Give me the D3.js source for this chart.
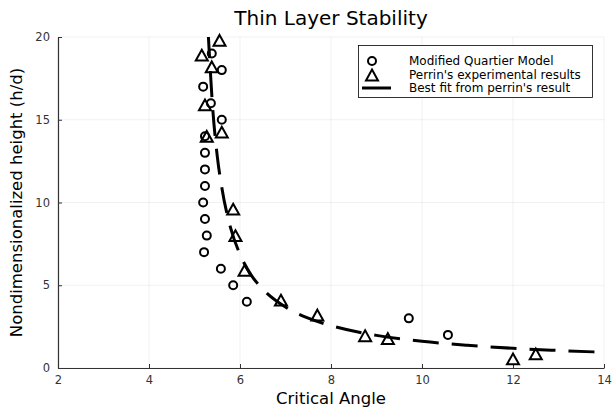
<!DOCTYPE html>
<html><head><meta charset="utf-8">
<script src="https://cdn.jsdelivr.net/npm/d3@7"></script>
<style>body{margin:0;background:#fff}svg{display:block}text{font-family:"DejaVu Sans",sans-serif}</style>
</head><body>
<script>
// Modified Quartier Model
const quartierX = [10.57, 9.71, 6.15, 5.85, 5.58, 5.21, 5.27, 5.23, 5.19, 5.23, 5.23, 5.23, 5.23, 5.6, 5.36, 5.19, 5.6, 5.38];
const quartierY = [2, 3, 4, 5, 6, 7, 8, 9, 10, 11, 12, 13, 14, 15, 16, 17, 18, 19];
// Perrin's experimental results
const perrinX = [5.55, 5.16, 5.38, 5.23, 5.27, 5.6, 5.85, 5.9, 6.1, 6.9, 7.7, 8.75, 9.25, 12.0, 12.5];
const perrinY = [19.8, 18.9, 18.2, 15.9, 14.0, 14.25, 9.6, 8.0, 5.9, 4.1, 3.2, 1.95, 1.78, 0.55, 0.85];
// Best fit from perrin's result
const fitX = [5.3, 5.4, 5.5, 5.6, 5.8, 6.0, 6.25, 6.5, 7.0, 7.5, 8.0, 9.0, 10.0, 11.0, 12.0, 13.0, 14.0];
const fitY = [20.3, 15.7, 12.8, 10.9, 8.4, 6.87, 5.6, 4.77, 3.68, 3.01, 2.56, 1.97, 1.61, 1.37, 1.19, 1.06, 0.95];
const xTicks = [2, 4, 6, 8, 10, 12, 14];
const yTicks = [0, 5, 10, 15, 20];
const legendLabels = ["Modified Quartier Model", "Perrin's experimental results", "Best fit from perrin's result"];

const W = 613, H = 407;
const L = 58, R = 604, T = 37, B = 368;
const svg = d3.select("body").append("svg").attr("width", W).attr("height", H);
const x = d3.scaleLinear().domain([2, 14]).range([L, R]);
const y = d3.scaleLinear().domain([0, 20]).range([B, T]);

// grid
const g = svg.append("g");
g.selectAll(".gx").data(xTicks).join("line")
  .attr("x1", d => x(d)).attr("x2", d => x(d)).attr("y1", T).attr("y2", B)
  .attr("stroke", "#000").attr("stroke-opacity", 0.1).attr("stroke-width", 0.6);
g.selectAll(".gy").data(yTicks).join("line")
  .attr("x1", L).attr("x2", R).attr("y1", d => y(d)).attr("y2", d => y(d))
  .attr("stroke", "#000").attr("stroke-opacity", 0.1).attr("stroke-width", 0.6);

// axes
const xa = svg.append("g").attr("transform", `translate(0,${B})`)
  .call(d3.axisBottom(x).tickValues(xTicks).tickSizeInner(-4).tickSizeOuter(0).tickPadding(8));
const ya = svg.append("g").attr("transform", `translate(${L},0)`)
  .call(d3.axisLeft(y).tickValues(yTicks).tickSizeInner(-4).tickSizeOuter(0).tickPadding(8));
[xa, ya].forEach(a => {
  a.select(".domain").attr("stroke", "#333").attr("stroke-width", 1.2);
  a.selectAll(".tick line").attr("stroke", "#333").attr("stroke-width", 1);
  a.selectAll(".tick text").attr("font-family", "DejaVu Sans").attr("font-size", 11.5).attr("fill", "#333");
});

// clip
svg.append("clipPath").attr("id", "clip").append("rect")
  .attr("x", L).attr("y", T).attr("width", R - L).attr("height", B - T);
const plot = svg.append("g").attr("clip-path", "url(#clip)");

// fit line
const fitData = fitX.map((v, i) => [v, fitY[i]]);
plot.append("path").datum(fitData)
  .attr("d", d3.line().x(d => x(d[0])).y(d => y(d[1])).curve(d3.curveMonotoneX))
  .attr("fill", "none").attr("stroke", "#000").attr("stroke-width", 3)
  .attr("stroke-dasharray", "26,13");

function tri(s) {
  const h = s * 0.9;
  return `M0,${-h/2}L${s/2},${h/2}L${-s/2},${h/2}Z`;
}

// circles
const qData = quartierX.map((v, i) => [v, quartierY[i]]);
svg.append("g").selectAll("circle").data(qData).join("circle")
  .attr("cx", d => x(d[0])).attr("cy", d => y(d[1])).attr("r", 4)
  .attr("fill", "none").attr("stroke", "#000").attr("stroke-width", 2);

// triangles
const pData = perrinX.map((v, i) => [v, perrinY[i]]);
svg.append("g").selectAll("path").data(pData).join("path")
  .attr("transform", d => `translate(${x(d[0])},${y(d[1])})`)
  .attr("d", tri(12)).attr("fill", "none").attr("stroke", "#000")
  .attr("stroke-width", 2).attr("stroke-linejoin", "miter");

// title & labels
svg.append("text").attr("x", (L + R) / 2).attr("y", 25).attr("text-anchor", "middle")
  .attr("font-size", 20).attr("fill", "#000").text("Thin Layer Stability");
svg.append("text").attr("x", (L + R) / 2).attr("y", 404).attr("text-anchor", "middle")
  .attr("font-size", 16.5).attr("fill", "#000").text("Critical Angle");
svg.append("text").attr("transform", `translate(22,${(T + B) / 2}) rotate(-90)`)
  .attr("text-anchor", "middle").attr("font-size", 16.5).attr("fill", "#000")
  .text("Nondimensionalized height (h/d)");

// legend
const lg = svg.append("g");
lg.append("rect").attr("x", 358.5).attr("y", 45.5).attr("width", 234).attr("height", 52)
  .attr("fill", "#fff").attr("stroke", "#000").attr("stroke-width", 0.8);
const ly = [61, 75, 88];
lg.append("circle").attr("cx", 372).attr("cy", ly[0]).attr("r", 4)
  .attr("fill", "none").attr("stroke", "#000").attr("stroke-width", 2);
lg.append("path").attr("transform", `translate(372,${ly[1]})`).attr("d", tri(12))
  .attr("fill", "none").attr("stroke", "#000").attr("stroke-width", 2);
lg.append("line").attr("x1", 362).attr("x2", 391).attr("y1", ly[2]).attr("y2", ly[2])
  .attr("stroke", "#000").attr("stroke-width", 3);
lg.selectAll("text.l").data(legendLabels).join("text")
  .attr("x", 409).attr("y", (d, i) => ly[i] + 4).attr("font-size", 12).attr("fill", "#000")
  .text(d => d);
</script>
</body></html>
